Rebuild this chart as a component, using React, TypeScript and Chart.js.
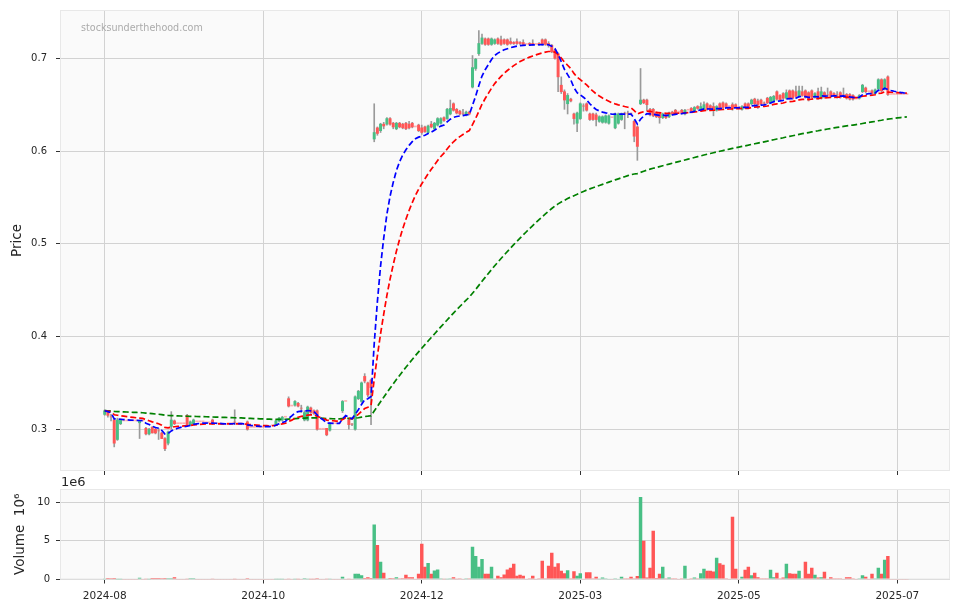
import React, { useEffect, useRef } from "react";
import { Chart, registerables } from "chart.js";
Chart.register(...registerables);

// ---------- data (one entry per trading day, index 0..253) ----------
const opens = [
  .316,.319,.313,.310,.289,.306,.309,.309,.309,.309,
  .309,.307,.309,.301,.295,.302,.300,.298,.296,.290,
  .285,.303,.309,.306,.306,.306,.315,.305,.306,.308,
  .308,.308,.307,.307,.310,.306,.306,.305,.305,.306,
  .306,.307,.306,.306,.305,.308,.302,.302,.302,.302,
  .302,.303,.303,.304,.305,.309,.310,.313,.333,.325,
  .326,.328,.322,.310,.310,.323,.320,.320,.300,.300,
  .301,.299,.306,.306,.306,.320,.330,.310,.305,.300,
  .333,.330,.357,.350,.353,.613,.625,.622,.629,.629,
  .635,.630,.624,.630,.629,.630,.629,.630,.626,.628,
  .625,.626,.620,.629,.624,.628,.630,.636,.635,.640,
  .651,.645,.643,.640,.639,.642,.669,.689,.705,.716,
  .721,.721,.715,.716,.721,.720,.720,.720,.718,.717,
  .718,.717,.717,.715,.716,.716,.715,.716,.720,.720,
  .716,.714,.709,.705,.671,.664,.651,.656,.640,.630,
  .635,.648,.651,.640,.640,.639,.632,.631,.631,.630,
  .636,.625,.630,.634,.640,.640,.640,.632,.626,.651,
  .655,.655,.645,.645,.641,.640,.636,.639,.637,.642,
  .644,.642,.644,.640,.644,.646,.643,.648,.644,.645,
  .651,.649,.648,.644,.651,.652,.651,.648,.650,.650,
  .647,.645,.651,.651,.651,.656,.654,.655,.651,.657,
  .652,.654,.664,.660,.662,.657,.665,.665,.664,.659,
  .664,.665,.663,.665,.658,.664,.657,.663,.660,.664,
  .662,.660,.663,.660,.661,.661,.660,.656,.657,.664,
  .668,.664,.665,.662,.667,.677,.667,.680,.661,.661,
  .661,.661,.661,.661,
];
const highs = [
  .321,.320,.316,.311,.312,.311,.309,.309,.309,.309,
  .309,.310,.309,.302,.301,.303,.301,.301,.297,.291,
  .298,.319,.310,.306,.306,.306,.316,.309,.311,.308,
  .308,.308,.307,.307,.311,.306,.306,.305,.305,.306,
  .306,.321,.306,.306,.305,.309,.302,.302,.302,.302,
  .302,.303,.303,.304,.310,.313,.314,.313,.335,.325,
  .331,.329,.326,.320,.325,.324,.321,.321,.300,.300,
  .301,.307,.306,.306,.306,.331,.330,.311,.306,.336,
  .342,.351,.360,.351,.354,.651,.626,.630,.631,.636,
  .636,.631,.631,.631,.630,.631,.632,.631,.626,.629,
  .628,.627,.628,.632,.631,.636,.636,.637,.646,.655,
  .652,.646,.644,.645,.643,.643,.703,.700,.730,.726,
  .722,.722,.722,.721,.722,.724,.721,.721,.722,.718,
  .721,.718,.720,.715,.717,.720,.715,.717,.721,.721,
  .718,.715,.710,.706,.680,.666,.662,.657,.641,.642,
  .652,.651,.652,.641,.641,.641,.638,.638,.639,.639,
  .636,.641,.641,.641,.642,.643,.641,.633,.627,.689,
  .656,.656,.646,.646,.642,.642,.641,.640,.642,.643,
  .645,.642,.645,.645,.644,.647,.648,.649,.652,.653,
  .652,.650,.652,.649,.652,.653,.652,.648,.652,.651,
  .647,.649,.652,.652,.656,.657,.656,.656,.653,.658,
  .659,.660,.665,.661,.663,.666,.666,.666,.670,.670,
  .670,.666,.664,.666,.663,.668,.669,.664,.668,.665,
  .663,.664,.664,.668,.662,.662,.661,.656,.661,.672,
  .669,.664,.666,.667,.678,.678,.678,.681,.661,.661,
  .661,.661,.661,.661,
];
const lows = [
  .315,.313,.309,.281,.288,.305,.309,.309,.309,.309,
  .309,.290,.309,.294,.294,.296,.295,.289,.290,.277,
  .283,.300,.305,.306,.306,.306,.304,.304,.305,.308,
  .308,.308,.307,.307,.305,.306,.306,.305,.305,.306,
  .306,.305,.306,.306,.305,.299,.302,.302,.302,.302,
  .302,.303,.303,.304,.304,.308,.309,.313,.324,.325,
  .325,.324,.318,.309,.309,.317,.316,.299,.300,.300,
  .293,.298,.306,.306,.306,.318,.330,.300,.304,.299,
  .332,.329,.350,.335,.305,.610,.617,.620,.624,.628,
  .628,.624,.623,.625,.624,.623,.624,.625,.626,.621,
  .618,.620,.619,.625,.623,.627,.629,.632,.634,.639,
  .643,.640,.639,.639,.638,.639,.668,.687,.703,.715,
  .714,.714,.714,.715,.715,.714,.715,.714,.715,.715,
  .715,.715,.714,.715,.714,.714,.715,.714,.714,.714,
  .712,.706,.699,.664,.662,.645,.640,.653,.629,.621,
  .634,.643,.643,.633,.633,.627,.631,.630,.630,.629,
  .636,.624,.629,.633,.624,.636,.639,.610,.590,.650,
  .651,.644,.638,.637,.636,.630,.635,.635,.636,.639,
  .641,.642,.640,.639,.644,.642,.642,.645,.643,.644,
  .644,.644,.638,.643,.645,.646,.647,.648,.644,.646,
  .647,.644,.646,.646,.650,.650,.646,.650,.650,.651,
  .651,.653,.655,.654,.656,.656,.656,.656,.658,.658,
  .659,.657,.654,.657,.657,.656,.656,.657,.659,.658,
  .659,.657,.657,.659,.656,.655,.655,.656,.656,.663,
  .663,.664,.661,.661,.666,.664,.666,.660,.661,.661,
  .661,.661,.661,.661,
];
const closes = [
  .320,.315,.313,.285,.310,.310,.309,.309,.309,.309,
  .309,.309,.309,.295,.300,.296,.296,.298,.290,.279,
  .297,.310,.306,.306,.306,.306,.305,.308,.310,.308,
  .308,.308,.307,.307,.306,.306,.306,.305,.305,.306,
  .306,.307,.306,.306,.305,.300,.302,.302,.302,.302,
  .302,.303,.303,.304,.309,.312,.313,.313,.325,.325,
  .330,.325,.322,.318,.324,.318,.317,.300,.300,.300,
  .294,.306,.306,.306,.306,.330,.330,.305,.305,.335,
  .341,.350,.352,.337,.345,.620,.619,.629,.627,.635,
  .629,.626,.630,.626,.625,.624,.625,.626,.626,.622,
  .620,.621,.627,.626,.630,.635,.635,.633,.645,.646,
  .644,.641,.640,.640,.642,.640,.690,.699,.716,.722,
  .715,.715,.721,.720,.716,.715,.716,.715,.716,.716,
  .716,.716,.715,.715,.715,.715,.715,.715,.715,.715,
  .714,.707,.700,.680,.664,.655,.660,.654,.635,.641,
  .651,.648,.644,.634,.634,.634,.637,.637,.638,.638,
  .636,.640,.640,.640,.640,.640,.640,.616,.605,.655,
  .652,.650,.639,.638,.637,.636,.640,.636,.641,.640,
  .642,.642,.641,.644,.644,.643,.647,.646,.648,.650,
  .645,.645,.645,.648,.646,.647,.648,.648,.646,.647,
  .647,.648,.647,.647,.655,.651,.650,.651,.651,.652,
  .658,.659,.656,.655,.657,.663,.657,.657,.659,.665,
  .660,.658,.655,.658,.662,.657,.664,.658,.660,.659,
  .660,.660,.658,.660,.657,.656,.656,.656,.660,.671,
  .664,.664,.662,.666,.677,.665,.677,.661,.661,.661,
  .661,.661,.661,.661,
];
// volume in millions of shares
const volumes = [
  .05,.15,.12,.15,.02,.02,0,0,0,0,
  0,.17,0,.03,.02,.15,.15,.15,.12,.15,
  .12,.12,.25,0,0,0,.03,.12,.12,0,
  0,0,0,0,.03,0,0,0,0,0,
  0,.02,0,0,0,.12,0,0,0,0,
  0,0,0,0,.02,.02,.02,0,.03,0,
  .02,.02,0,.12,.03,.02,.02,.12,0,0,
  .03,.03,0,0,0,.3,0,.05,0,.69,
  .69,.5,.15,.25,.15,7.07,4.4,2.24,.82,.05,
  .15,.12,.25,.1,.12,.56,.25,.25,0,.69,
  4.57,1.6,2.1,.69,1.12,1.25,.1,.05,.03,.1,
  .25,.03,.1,0,.1,.1,4.18,3.0,1.6,2.6,
  .69,.69,1.6,.05,.43,.25,.6,1.25,1.47,2.0,
  .43,.56,.43,0,.1,.43,0,.1,2.37,.1,
  1.72,3.4,1.6,2.07,1.08,.78,1.16,.1,1.03,.43,
  .78,0,.9,.9,.1,.3,.05,.2,.1,0,
  0,.1,0,.3,.1,.1,.3,.1,.4,10.6,
  4.96,.2,1.47,6.25,.15,.69,1.6,.1,.2,.1,
  .1,0,.1,1.72,0,.1,.2,.1,.78,1.34,
  1.08,1.08,1.0,2.76,2.07,1.85,.1,0,8.06,1.34,
  0,.3,1.2,1.6,.52,.82,.25,.1,.1,.1,
  1.2,.25,.82,.1,.2,2.0,.78,.69,.69,1.08,
  .1,2.24,.69,1.47,.56,.2,.25,.95,0,.25,
  .1,.1,.1,0,.25,.25,.1,0,.1,.52,
  .3,0,.69,.1,1.47,.69,2.5,3.0,0,0,
  0,0,0,0,
];
const tickIndex = [0, 50, 100, 150, 200, 250];
const tickLabels = ["2024-08", "2024-10", "2024-12", "2025-03", "2025-05", "2025-07"];
const priceTicks = [0.3, 0.4, 0.5, 0.6, 0.7];
const volumeTicks = [0, 5, 10];
const maSpans = [9, 20, 120];
const maColors = ["#0000ff", "#ff0000", "#008000"];

// ---------- style ----------
const UP = "#48bf85";
const DOWN = "#ff5656";
const FLAT = "rgba(255,86,86,0.45)";
const WICK = "#9a9a9a";
const GRID = "#d2d2d2";
const TEXT = "#262626";
const FONT = '"DejaVu Sans", sans-serif';
const X_MIN = -14.1;
const X_MAX = 266.6;

function ema(values: number[], span: number) {
  const a = 2 / (span + 1);
  const out: number[] = [];
  values.forEach((v, i) => out.push(i === 0 ? v : a * v + (1 - a) * out[i - 1]));
  return out;
}

const panelPlugin = {
  id: "panel",
  beforeDraw(chart: any) {
    const { ctx, chartArea: a } = chart;
    ctx.save();
    ctx.fillStyle = "#fafafa";
    ctx.fillRect(a.left, a.top, a.right - a.left, a.bottom - a.top);
    ctx.restore();
  },
  afterDraw(chart: any) {
    const { ctx, chartArea: a } = chart;
    ctx.save();
    ctx.strokeStyle = "#e8e8e8";
    ctx.lineWidth = 1;
    ctx.strokeRect(a.left + 0.5, a.top + 0.5, a.right - a.left - 1, a.bottom - a.top - 1);
    ctx.restore();
  },
};

const watermarkPlugin = {
  id: "watermark",
  beforeDatasetsDraw(chart: any) {
    const { ctx } = chart;
    ctx.save();
    ctx.font = `9.6px ${FONT}`;
    ctx.fillStyle = "#ababab";
    ctx.textBaseline = "alphabetic";
    ctx.fillText("stocksunderthehood.com", 81, 31);
    ctx.restore();
  },
};

const offsetTextPlugin = {
  id: "offsetText",
  afterDraw(chart: any) {
    const { ctx } = chart;
    ctx.save();
    ctx.font = `13px ${FONT}`;
    ctx.fillStyle = TEXT;
    ctx.textBaseline = "alphabetic";
    ctx.fillText("1e6", 61, 486);
    ctx.restore();
  },
};

export default function App() {
  const priceRef = useRef<HTMLCanvasElement>(null);
  const volRef = useRef<HTMLCanvasElement>(null);

  useEffect(() => {
    document.body.style.margin = "0";
    Chart.defaults.font.family = FONT;
    const idx = closes.map((_, i) => i);
    const candleColor = idx.map((i) =>
      opens[i] < closes[i] ? UP : opens[i] > closes[i] ? DOWN : FLAT
    );
    const volColor = idx.map((i) => (opens[i] < closes[i] ? UP : DOWN));
    const mas = maSpans.map((s) => ema(closes, s));

    const xScale = (showLabels: boolean, height: number) => ({
      type: "linear",
      min: X_MIN,
      max: X_MAX,
      offset: false,
      afterBuildTicks: (s: any) => {
        s.ticks = tickIndex.map((v) => ({ value: v }));
      },
      afterFit: (s: any) => {
        s.height = height;
        s.paddingLeft = 0;
        s.paddingRight = 0;
        s.paddingTop = 0;
        s.paddingBottom = 0;
      },
      ticks: {
        display: showLabels,
        autoSkip: false,
        maxRotation: 0,
        padding: 6,
        color: TEXT,
        font: { size: 10.5 },
        callback: (v: any) => {
          const k = tickIndex.indexOf(Number(v));
          return k >= 0 ? tickLabels[k] : "";
        },
      },
      grid: { color: GRID, lineWidth: 1, tickColor: "#333", tickLength: 4, offset: false },
      border: { display: false },
    });

    const yFit = (s: any) => {
      s.width = 60;
      s.paddingLeft = 0;
      s.paddingRight = 0;
      s.paddingTop = 0;
      s.paddingBottom = 0;
    };

    const priceChart = new Chart(priceRef.current as HTMLCanvasElement, {
      type: "bar",
      data: {
        datasets: [
          ...mas.map((m, k) => ({
            type: "line" as const,
            data: idx.map((i) => ({ x: i, y: m[i] })),
            borderColor: maColors[k],
            borderWidth: 1.7,
            borderDash: [6, 3],
            pointRadius: 0,
            tension: 0,
            fill: false,
            order: k,
          })),
          {
            type: "bar" as const,
            data: idx.map((i) => ({ x: i, y: [opens[i], closes[i]] })),
            backgroundColor: candleColor,
            barThickness: 2.3,
            minBarLength: 1,
            grouped: false,
            order: 5,
          },
          {
            type: "bar" as const,
            data: idx
              .filter((i) => highs[i] > lows[i])
              .map((i) => ({ x: i, y: [lows[i], highs[i]] })),
            backgroundColor: WICK,
            barThickness: 1,
            grouped: false,
            order: 6,
          },
        ],
      } as any,
      options: {
        responsive: false,
        devicePixelRatio: 1,
        animation: false,
        layout: { padding: { top: 10, right: 9, bottom: 131, left: 0 } },
        plugins: { legend: { display: false }, tooltip: { enabled: false } },
        scales: {
          x: xScale(false, 9),
          y: {
            min: 0.255,
            max: 0.7521,
            afterBuildTicks: (s: any) => {
              s.ticks = priceTicks.map((v) => ({ value: v }));
            },
            afterFit: yFit,
            ticks: {
              padding: 9,
              color: TEXT,
              font: { size: 10 },
              callback: (v: any) => Number(v).toFixed(1),
            },
            grid: { color: GRID, lineWidth: 1, tickColor: "#333", tickLength: 4 },
            border: { display: false },
            title: {
              display: true,
              text: "Price",
              color: TEXT,
              font: { size: 13.5 },
              padding: { top: 9, bottom: 0 },
            },
          },
        } as any,
      },
      plugins: [panelPlugin, watermarkPlugin],
    });

    const volChart = new Chart(volRef.current as HTMLCanvasElement, {
      type: "bar",
      data: {
        datasets: [
          {
            data: idx.map((i) => ({ x: i, y: volumes[i] })),
            backgroundColor: volColor,
            barThickness: 2.8,
            grouped: false,
          },
        ],
      } as any,
      options: {
        responsive: false,
        devicePixelRatio: 1,
        animation: false,
        layout: { padding: { top: 489, right: 9, bottom: 0, left: 0 } },
        plugins: { legend: { display: false }, tooltip: { enabled: false } },
        scales: {
          x: xScale(true, 31.5),
          y: {
            min: 0,
            max: 11.68,
            afterBuildTicks: (s: any) => {
              s.ticks = volumeTicks.map((v) => ({ value: v }));
            },
            afterFit: yFit,
            ticks: { padding: 6, color: TEXT, font: { size: 10 } },
            grid: { color: GRID, lineWidth: 1, tickColor: "#333", tickLength: 4 },
            border: { display: false },
            title: {
              display: true,
              text: "Volume  10\u2076",
              color: TEXT,
              font: { size: 13.5 },
              padding: { top: 12, bottom: 0 },
            },
          },
        } as any,
      },
      plugins: [panelPlugin, offsetTextPlugin],
    });

    return () => {
      priceChart.destroy();
      volChart.destroy();
    };
  }, []);

  return (
    <div style={{ position: "fixed", left: 0, top: 0, width: 959, height: 611, background: "#fff" }}>
      <canvas ref={priceRef} width={959} height={611} style={{ position: "absolute", left: 0, top: 0 }} />
      <canvas ref={volRef} width={959} height={611} style={{ position: "absolute", left: 0, top: 0 }} />
    </div>
  );
}
